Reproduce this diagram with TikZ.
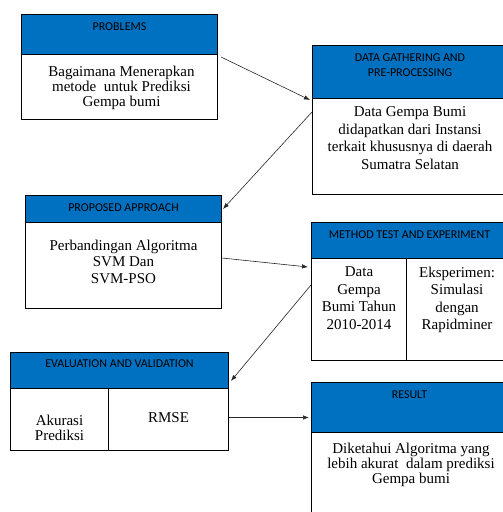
\documentclass[tikz,border=0pt]{standalone}
\usepackage{fontspec}
\setmainfont{Liberation Serif}
\newfontfamily\hdrfont{Carlito}
\usetikzlibrary{positioning,arrows.meta}
\definecolor{hdrblue}{RGB}{0,112,192}
\tikzset{
  box/.style={draw, line width=1pt, anchor=north west, inner sep=0pt},
  head/.style={box, fill=hdrblue},
  headtext/.style={font=\hdrfont\fontsize{12}{15}\selectfont, align=center, inner sep=0pt},
  bodytext/.style={font=\fontsize{15}{15}\selectfont, align=center, inner sep=0pt}
}

\begin{document}
\begin{tikzpicture}[x=1pt, y=-1pt, > = {Latex[length=6pt,width=4.5pt]}]
  \useasboundingbox (0,0) rectangle (503,512);
  \clip (0,0) rectangle (503,512);

  % boxes
  \node[head, minimum width=196, minimum height=40]  (prob_h) at (21,14)   {};
  \node[box,  minimum width=196, minimum height=65]  (prob_b) at (21,54)   {};
  \node[head, minimum width=195, minimum height=53]  (data_h) at (312,45)  {};
  \node[box,  minimum width=195, minimum height=96]  (data_b) at (312,98)  {};
  \node[head, minimum width=196, minimum height=27]  (prop_h) at (25,195)  {};
  \node[box,  minimum width=196, minimum height=86]  (prop_b) at (25,222)  {};
  \node[head, minimum width=196, minimum height=36]  (meth_h) at (311,222) {};
  \node[box,  minimum width=95,  minimum height=102] (meth_l) at (311,258) {};
  \node[box,  minimum width=101, minimum height=102] (meth_r) at (406,258) {};
  \node[head, minimum width=218, minimum height=36]  (eval_h) at (10,352)  {};
  \node[box,  minimum width=98,  minimum height=62]  (eval_l) at (10,388)  {};
  \node[box,  minimum width=120, minimum height=62]  (eval_r) at (108,388) {};
  \node[head, minimum width=196, minimum height=50]  (res_h)  at (311,382) {};
  \node[box,  minimum width=196, minimum height=100] (res_b)  at (311,432) {};

  % titles
  \node[headtext, below=9pt of prob_h.north] (prob_t) {PROBLEMS};
  \node[headtext, below=9pt of data_h.north] (data_t) {DATA GATHERING AND\\PRE-PROCESSING};
  \node[headtext, below=9pt of prop_h.north] (prop_t) {PROPOSED APPROACH};
  \node[headtext, below=9pt of meth_h.north] (meth_t) {METHOD TEST AND EXPERIMENT};
  \node[headtext, below=8pt of eval_h.north] (eval_t) {EVALUATION AND VALIDATION};
  \node[headtext, below=9pt of res_h.north]  (res_t)  {RESULT};

  % contents
  \node[bodytext, below=11.5pt of prob_b.north, xshift=2pt] (prob_x)
    {Bagaimana Menerapkan\\metode~ untuk Prediksi\\Gempa bumi};
  \node[bodytext, below=8.5pt of data_b.north, font=\fontsize{15}{17.6}\selectfont] (data_x)
    {Data Gempa Bumi\\didapatkan dari Instansi\\terkait khususnya di daerah\\Sumatra Selatan};
  \node[bodytext, below=17.5pt of prop_b.north, font=\fontsize{15}{16.5}\selectfont] (prop_x)
    {Perbandingan Algoritma\\SVM Dan\\SVM-PSO};
  \node[bodytext, below=8.5pt of meth_l.north, font=\fontsize{15}{17.6}\selectfont] (meth_lx)
    {Data\\Gempa\\Bumi Tahun\\2010-2014};
  \node[bodytext, below=8.5pt of meth_r.north, font=\fontsize{15}{17.6}\selectfont] (meth_rx)
    {Eksperimen:\\Simulasi\\dengan\\Rapidminer};
  \node[bodytext, below=26.5pt of eval_l.north] (eval_lx) {Akurasi\\Prediksi};
  \node[bodytext, below=24.5pt of eval_r.north] (eval_rx) {RMSE};
  \node[bodytext, below=10.5pt of res_b.north, xshift=1.5pt] (res_x)
    {Diketahui Algoritma yang\\lebih akurat~ dalam prediksi\\Gempa bumi};

  % flow
  \path[->, line width=0.6pt, black!85]
    ([xshift=3pt,yshift=-3pt]prob_b.north east)  edge ([xshift=-2pt,yshift=-2pt]data_b.north west)
    ([yshift=-14pt]data_b.north west)            edge ([xshift=1pt]prop_h.east)
    ([yshift=-36pt]prop_b.north east)            edge ([xshift=-3pt,yshift=-9pt]meth_l.north west)
    ([yshift=-27pt]meth_l.north west)            edge ([xshift=2pt,yshift=8pt]eval_h.south east)
    ([yshift=2pt]eval_r.east)                    edge ([xshift=-2pt,yshift=-10pt]res_h.west);
\end{tikzpicture}
\end{document}
